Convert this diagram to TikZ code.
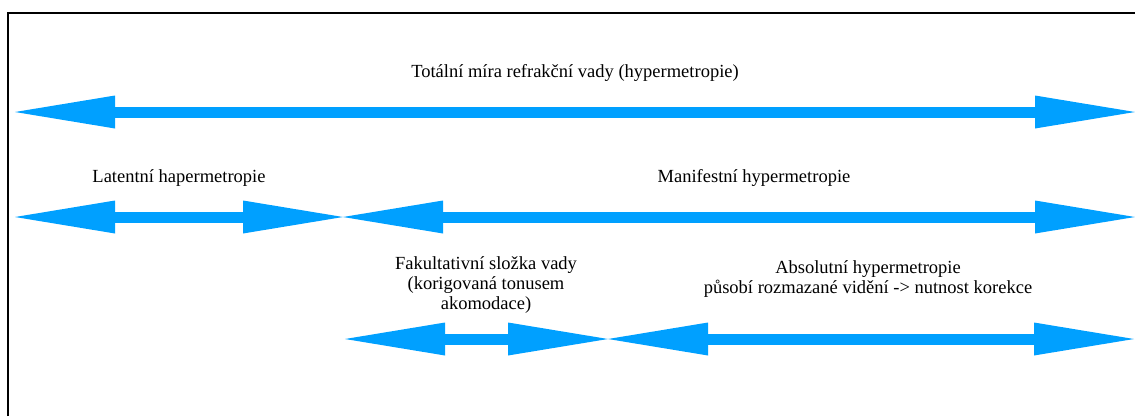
\documentclass[tikz,border=0pt]{standalone}
\usepackage{fontspec}
\setmainfont{Liberation Serif}
\usetikzlibrary{arrows.meta}
\definecolor{refblue}{RGB}{0,160,255}
\tikzset{
	arr/.style={refblue,line width=11pt,{Triangle[length=100pt,width=33pt,line width=0pt]}-{Triangle[length=100pt,width=33pt,line width=0pt]}},
	lbl/.style={inner sep=0pt,align=center}
}
\begin{document}
\begin{tikzpicture}[x=1pt,y=-1pt,font=\rmfamily\fontsize{18.5}{20}\selectfont]
	\useasboundingbox (0,0) rectangle (1135,416);
	\draw[line width=2.5pt] (8,416)--(8,13)--(1135,13);
	\path (15,112) coordinate (T1)
	(1135,112) coordinate (T2)
	(15,217) coordinate (L1)
	(343,217) coordinate (L2)
	(343,217) coordinate (M1)
	(1135,217) coordinate (M2)
	(345,339) coordinate (F1)
	(608,339) coordinate (F2)
	(608,339) coordinate (A1)
	(1134,339) coordinate (A2);
	\foreach \a/\b in {T1/T2,L1/L2,M1/M2,F1/F2,A1/A2}{
		\draw[arr] (\a)--(\b);
	}
	\node[lbl] (tot) at (575,73) {Totální míra refrakční vady (hypermetropie)};
	\node[lbl] (lat) at (179,178) {Latentní hapermetropie};
	\node[lbl] (man) at (754,178) {Manifestní hypermetropie};
	\node[lbl] (fak) at (486,285) {Fakultativní složka vady\\(korigovaná tonusem\\akomodace)};
	\node[lbl] (abs) at (868,279) {Absolutní hypermetropie\\působí rozmazané vidění -> nutnost korekce};
\end{tikzpicture}
\end{document}
